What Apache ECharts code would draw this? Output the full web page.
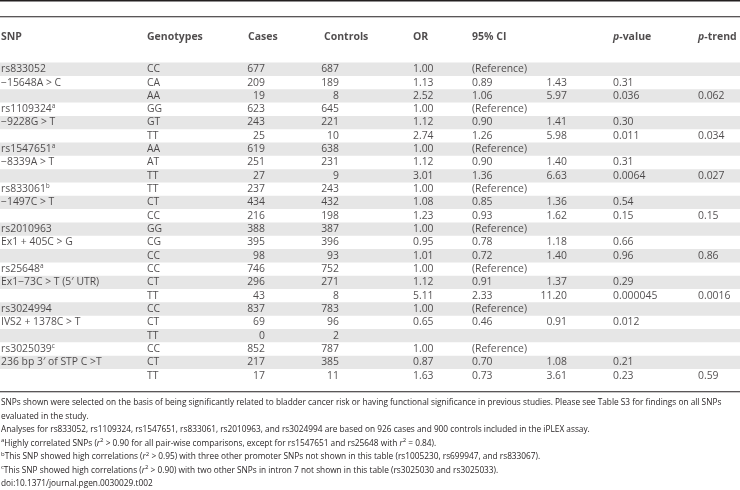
<!DOCTYPE html>
<html><head><meta charset="utf-8">
<script src="https://cdn.jsdelivr.net/npm/echarts@6/dist/echarts.min.js"></script>
<style>html,body{margin:0;padding:0;background:#fff}#c{width:740px;height:490px}</style>
</head><body><div id="c"></div>
<script>
// ---------- data ----------
const headers = ['SNP', 'Genotypes', 'Cases', 'Controls', 'OR', '95% CI', 'p-value', 'p-trend'];
const snp = ['rs833052', '\u221215648A > C', '', 'rs1109324', '\u22129228G > T', '', 'rs1547651', '\u22128339A > T', '',
  'rs833061', '\u22121497C > T', '', 'rs2010963', 'Ex1 + 405C > G', '', 'rs25648', 'Ex1\u221273C > T (5\u2032 UTR)', '',
  'rs3024994', 'IVS2 + 1378C > T', '', 'rs3025039', '236 bp 3\u2032 of STP C >T', ''];
const snpNote = ['', '', '', 'a', '', '', 'a', '', '', 'b', '', '', '', '', '', 'a', '', '', '', '', '', 'c', '', ''];
const genotypes = ['CC', 'CA', 'AA', 'GG', 'GT', 'TT', 'AA', 'AT', 'TT', 'TT', 'CT', 'CC', 'GG', 'CG', 'CC', 'CC', 'CT', 'TT', 'CC', 'CT', 'TT', 'CC', 'CT', 'TT'];
const cases = [677, 209, 19, 623, 243, 25, 619, 251, 27, 237, 434, 216, 388, 395, 98, 746, 296, 43, 837, 69, 0, 852, 217, 17];
const controls = [687, 189, 8, 645, 221, 10, 638, 231, 9, 243, 432, 198, 387, 396, 93, 752, 271, 8, 783, 96, 2, 787, 385, 11];
const oddsRatio = ['1.00', '1.13', '2.52', '1.00', '1.12', '2.74', '1.00', '1.12', '3.01', '1.00', '1.08', '1.23', '1.00', '0.95', '1.01', '1.00', '1.12', '5.11', '1.00', '0.65', '', '1.00', '0.87', '1.63'];
const ciLow = ['(Reference)', '0.89', '1.06', '(Reference)', '0.90', '1.26', '(Reference)', '0.90', '1.36', '(Reference)', '0.85', '0.93', '(Reference)', '0.78', '0.72', '(Reference)', '0.91', '2.33', '(Reference)', '0.46', '', '(Reference)', '0.70', '0.73'];
const ciHigh = ['', '1.43', '5.97', '', '1.41', '5.98', '', '1.40', '6.63', '', '1.36', '1.62', '', '1.18', '1.40', '', '1.37', '11.20', '', '0.91', '', '', '1.08', '3.61'];
const pValue = ['', '0.31', '0.036', '', '0.30', '0.011', '', '0.31', '0.0064', '', '0.54', '0.15', '', '0.66', '0.96', '', '0.29', '0.000045', '', '0.012', '', '', '0.21', '0.23'];
const pTrend = ['', '', '0.062', '', '', '0.034', '', '', '0.027', '', '', '0.15', '', '', '0.86', '', '', '0.0016', '', '', '', '', '', '0.59'];
const shaded = [true, false, true, false, true, false, true, false, true, false, true, false, true, false, true, false, true, false, true, false, true, false, true, false];
const footnotes = [
  'SNPs shown were selected on the basis of being significantly related to bladder cancer risk or having functional significance in previous studies. Please see Table S3 for findings on all SNPs',
  'evaluated in the study.',
  'Analyses for rs833052, rs1109324, rs1547651, rs833061, rs2010963, and rs3024994 are based on 926 cases and 900 controls included in the iPLEX assay.',
  '{sup|a}Highly correlated SNPs ({i|r}{sup|2} > 0.90 for all pair-wise comparisons, except for rs1547651 and rs25648 with {i|r}{sup|2} = 0.84).',
  '{sup|b}This SNP showed high correlations ({i|r}{sup|2} > 0.95) with three other promoter SNPs not shown in this table (rs1005230, rs699947, and rs833067).',
  '{sup|c}This SNP showed high correlations ({i|r}{sup|2} > 0.90) with two other SNPs in intron 7 not shown in this table (rs3025030 and rs3025033).',
  'doi:10.1371/journal.pgen.0030029.t002'
];

// ---------- layout / style ----------
const W = 740, H = 490;
const INK = '#231f20';
const BAND = '#e6e6e6';
const FONT = '"Open Sans", sans-serif';
const FS = 10.4;
const FOOT_FS = 8.3;
const ROW_TOP = 62.6, ROW_H = 13.32;
const colX = { snp: 1, geno: 147, cases: 265, controls: 339, or: 413, ciLow: 472, ciHigh: 567, pValue: 613, pTrend: 698 };
const headX = [1, 147, 248, 324, 413, 472, 613, 698];
const rowIdx = genotypes.map((_, i) => i);

const richBase = {
  n: { fontFamily: FONT, fontSize: FS, color: INK, lineHeight: 13 },
  sup: { fontFamily: FONT, fontSize: 6.5, color: INK, lineHeight: 8, verticalAlign: 'top' },
  b: { fontFamily: FONT, fontSize: 10.5, fontWeight: 'bold', color: INK },
  bi: { fontFamily: FONT, fontSize: 10.5, fontWeight: 'bold', fontStyle: 'italic', color: INK }
};

function textSeries(gridIdx, values, x, align, fmt) {
  const data = [];
  values.forEach((v, i) => {
    if (v === '' || v === null || v === undefined) return;
    data.push({ value: [x, i], label: { formatter: fmt ? fmt(v, i) : String(v) } });
  });
  return {
    type: 'scatter', xAxisIndex: gridIdx, yAxisIndex: gridIdx, z: 5,
    symbolSize: 0, silent: true, animation: false, data,
    label: { show: true, position: 'inside', align, verticalAlign: 'middle',
      color: INK, fontFamily: FONT, fontSize: FS, rich: richBase }
  };
}

const headFmt = h => h.startsWith('p-') ? '{bi|p}{b|' + h.slice(1) + '}' : '{b|' + h + '}';
const headerSeries = {
  type: 'scatter', xAxisIndex: 1, yAxisIndex: 1, symbolSize: 0, silent: true, animation: false,
  data: headers.map((h, k) => ({ value: [headX[k], 0], label: { formatter: headFmt(h) } })),
  label: { show: true, position: 'inside', align: 'left', verticalAlign: 'middle', color: INK, fontFamily: FONT, fontSize: 10.5, rich: richBase }
};

const stripeSeries = {
  type: 'bar', xAxisIndex: 0, yAxisIndex: 0, z: 1, silent: true, animation: false,
  barWidth: '100%', barGap: '0%',
  itemStyle: { color: BAND },
  data: shaded.map(s => (s ? W : null))
};

const series = [
  stripeSeries,
  textSeries(0, snp, colX.snp, 'left', (v, i) => '{n|' + v + '}' + (snpNote[i] ? '{sup|' + snpNote[i] + '}' : '')),
  textSeries(0, genotypes, colX.geno, 'left'),
  textSeries(0, cases, colX.cases, 'right'),
  textSeries(0, controls, colX.controls, 'right'),
  textSeries(0, oddsRatio, colX.or, 'left'),
  textSeries(0, ciLow, colX.ciLow, 'left'),
  textSeries(0, ciHigh, colX.ciHigh, 'right'),
  textSeries(0, pValue, colX.pValue, 'left'),
  textSeries(0, pTrend, colX.pTrend, 'left'),
  headerSeries
];

const footRich = {
  sup: { fontFamily: FONT, fontSize: 6, color: INK, lineHeight: 8, verticalAlign: 'top' },
  i: { fontFamily: FONT, fontSize: FOOT_FS, fontStyle: 'italic', color: INK, lineHeight: 12 }
};
const graphic = [
  { type: 'rect', shape: { x: 0, y: 0, width: W, height: 1.6 }, style: { fill: INK }, silent: true },
  { type: 'rect', shape: { x: 0, y: 16.3, width: W, height: 1 }, style: { fill: INK }, silent: true },
  { type: 'rect', shape: { x: 0, y: 391.2, width: W, height: 1 }, style: { fill: INK }, silent: true }
].concat(footnotes.map((t, k) => ({
  type: 'text', left: 1, top: 397 + k * 13.45, silent: true,
  style: { text: t, fill: INK, font: FOOT_FS + 'px ' + FONT, rich: footRich, lineHeight: 12 }
})));

const option = {
  animation: false,
  backgroundColor: '#fff',
  grid: [
    { left: 0, width: W, top: ROW_TOP, height: ROW_H * genotypes.length },
    { left: 0, width: W, top: 17, height: 40.6 }
  ],
  xAxis: [
    { type: 'value', gridIndex: 0, min: 0, max: W, show: false },
    { type: 'value', gridIndex: 1, min: 0, max: W, show: false }
  ],
  yAxis: [
    { type: 'category', gridIndex: 0, inverse: true, data: rowIdx, show: false },
    { type: 'category', gridIndex: 1, data: ['h'], show: false }
  ],
  series,
  graphic
};
const chart = echarts.init(document.getElementById('c'));
chart.setOption(option);
</script>
</body></html>
